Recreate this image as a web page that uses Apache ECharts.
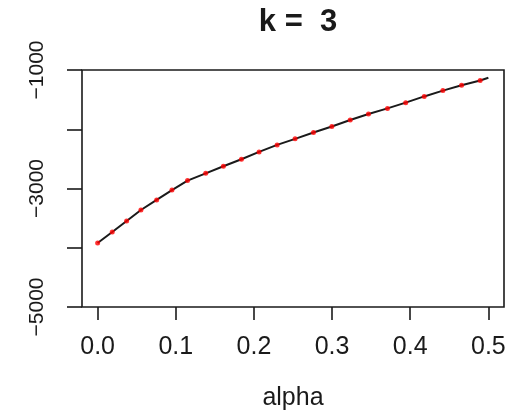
<!DOCTYPE html>
<html>
<head>
<meta charset="utf-8">
<script src="https://cdn.jsdelivr.net/npm/echarts@6/dist/echarts.min.js"></script>
<style>
  html, body { margin: 0; padding: 0; background: #fff; }
  #chart { width: 518px; height: 410px; }
</style>
</head>
<body>
<div id="chart"></div>
<script>
// Log-likelihood profile over alpha for k = 3
const alphaPts = [0.000, 0.0187, 0.0371, 0.0554, 0.0755, 0.0951, 0.1150, 0.1383,
  0.1609, 0.1840, 0.2066, 0.2297, 0.2527, 0.2762, 0.2997, 0.3232, 0.3466,
  0.3709, 0.3942, 0.4179, 0.4418, 0.4657, 0.4895];
const logLik = [-3921, -3735, -3548, -3363, -3193, -3027, -2866, -2744,
  -2625, -2506, -2383, -2264, -2162, -2055, -1953, -1845, -1743,
  -1648, -1551, -1446, -1348, -1258, -1178];
// the fitted curve continues to the end of the alpha range
const curveEndAlpha = 0.5;
const curveEndValue = -1132;

const xTicks = [0, 0.1, 0.2, 0.3, 0.4, 0.5];
const yTicks = [-5000, -4000, -3000, -2000, -1000];
const yLabelTicks = [-5000, -3000, -1000];

const points = alphaPts.map((a, i) => [a, logLik[i]]);
const curve = points.concat([[curveEndAlpha, curveEndValue]]);

const ink = '#1a1a1a';
const font = 'Liberation Sans, Arial, Helvetica, sans-serif';

const chart = echarts.init(document.getElementById('chart'), null, { renderer: 'canvas' });
chart.setOption({
  animation: false,
  backgroundColor: '#fff',
  title: {
    text: 'k =  3',
    left: 293, top: 2, textAlign: 'center',
    textStyle: { fontFamily: font, fontWeight: 'bold', fontSize: 31, color: ink }
  },
  grid: {
    left: 82, right: 14, top: 70, bottom: 103,
    outerBoundsMode: 'none', containLabel: false,
    show: true, borderColor: ink, borderWidth: 1.6, backgroundColor: 'transparent'
  },
  xAxis: {
    type: 'value', min: -0.02, max: 0.52,
    name: 'alpha', nameLocation: 'middle', nameGap: 79,
    nameTextStyle: { fontFamily: font, fontSize: 25, color: ink },
    axisLine: { show: false, onZero: false },
    splitLine: { show: false },
    axisTick: { show: true, length: 13, customValues: xTicks, lineStyle: { color: ink, width: 1.6 } },
    axisLabel: {
      customValues: xTicks, margin: 28,
      fontFamily: font, fontSize: 25, color: ink,
      formatter: v => v.toFixed(1)
    }
  },
  yAxis: {
    type: 'value', min: -5000, max: -1000, interval: 1000,
    axisLine: { show: false, onZero: false },
    splitLine: { show: false },
    axisTick: { show: true, length: 15, customValues: yTicks, lineStyle: { color: ink, width: 1.6 } },
    axisLabel: {
      customValues: yLabelTicks, rotate: 90, margin: 34,
      fontFamily: font, fontSize: 21, color: ink,
      formatter: v => String(v).replace('-', '\u2212')
    }
  },
  series: [
    {
      type: 'line', data: curve, showSymbol: false, symbol: 'none',
      lineStyle: { color: ink, width: 2 }, z: 2
    },
    {
      type: 'scatter', data: points, symbol: 'circle', symbolSize: 5,
      itemStyle: { color: '#ff0000' }, z: 3
    }
  ]
});
</script>
</body>
</html>
